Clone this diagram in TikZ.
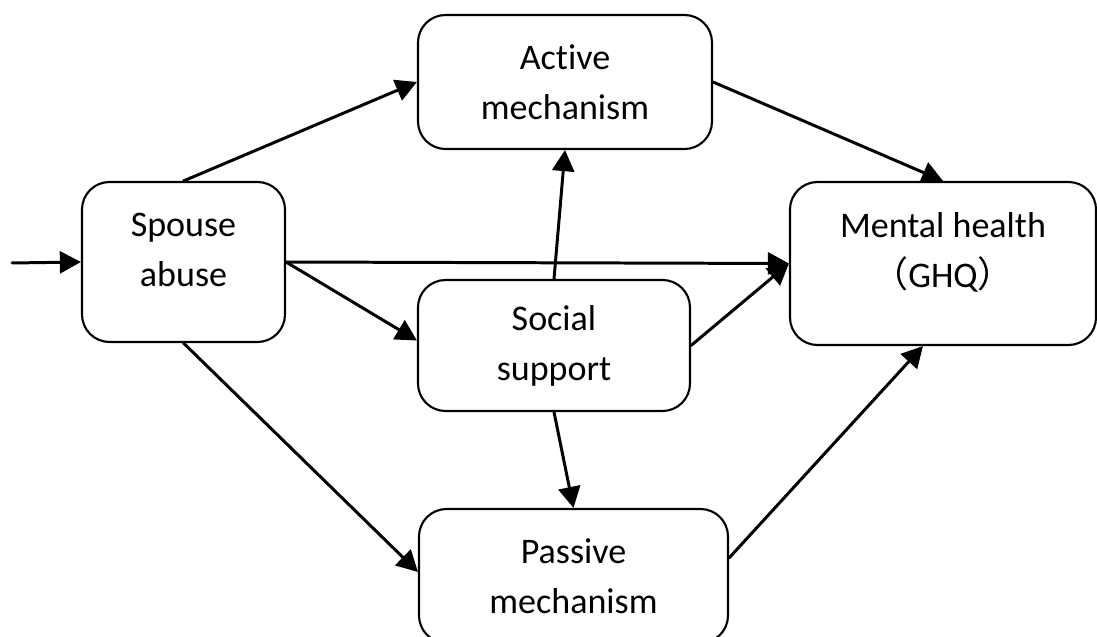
\documentclass[tikz,border=0pt]{standalone}
\usepackage{fontspec}
\setmainfont{Carlito}[Ligatures=NoCommon]
\newfontfamily\cjk{Noto Sans CJK SC}
\usetikzlibrary{arrows.meta}
\begin{document}
\begin{tikzpicture}[>={Triangle[length=12pt,width=12.5pt]},line join=round,line cap=round,
	box/.style={draw,line width=1.2pt,rounded corners=0.55cm,align=center,inner sep=2pt,
		font=\fontsize{20.5}{28.5}\selectfont},
	arr/.style={->,line width=1.7pt}]
		
		\useasboundingbox (0,0) rectangle (21.94,-12.74);
		\begin{scope}
		\clip (0,0) rectangle (21.94,-12.74);
		\node[box,minimum width=5.88cm,minimum height=2.68cm] (act) at (11.30,-1.64) {Active\\mechanism};
		\node[box,minimum width=4.06cm,minimum height=3.20cm,text depth=0.5cm] (sp) at (3.67,-5.24) {Spouse\\abuse};
		\node[box,minimum width=6.12cm,minimum height=3.26cm,text depth=0.55cm] (mh) at (18.86,-5.27) {Mental health\\{\cjk （}GHQ{\cjk ）}};
		\node[box,minimum width=5.44cm,minimum height=2.62cm] (soc) at (11.08,-6.91) {Social\\support};
		\node[box,minimum width=6.18cm,minimum height=2.68cm] (pas) at (11.47,-11.52) {Passive\\mechanism};
		\end{scope}
		\coordinate (in) at (0.24,-5.26);
		% paths
		\draw[arr] (in) -- (sp.west);
		\draw[arr] (sp.north) -- (act.west);
		\draw[arr] (sp.east) -- (mh.west);
		\draw[arr] (sp.east) -- ([yshift=0.1cm]soc.west);
		\draw[arr] (sp.south) -- ([yshift=0.08cm]pas.west);
		\draw[arr] (soc.north) -- (act.south);
		\draw[arr] (soc.south) -- (pas.north);
		\draw[arr] (soc.east) -- (mh.west);
		\draw[arr] (act.east) -- (mh.north);
		\draw[arr] ([yshift=0.36cm]pas.east) -- ([xshift=-0.4cm]mh.south);
	\end{tikzpicture}
\end{document}
